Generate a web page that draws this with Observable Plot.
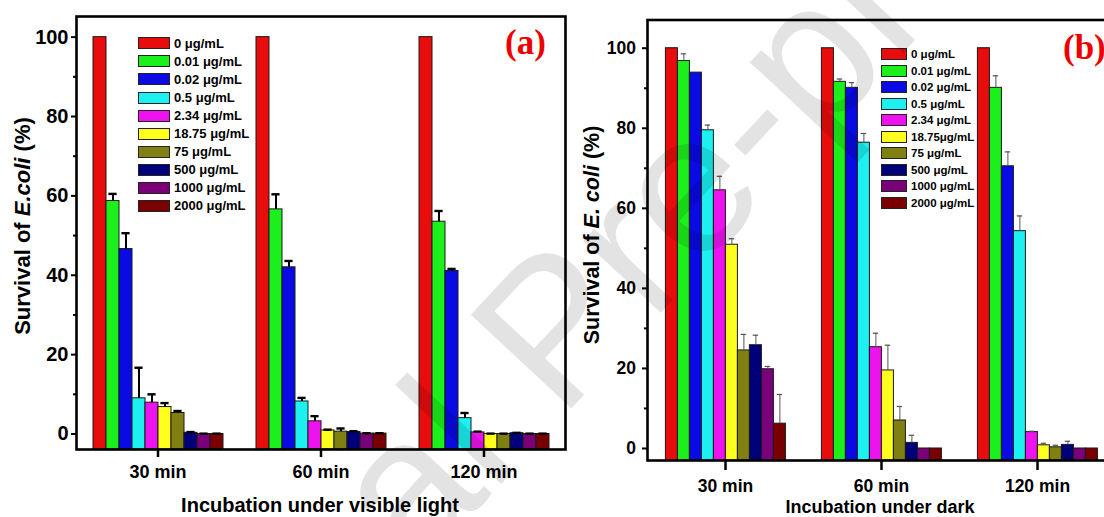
<!DOCTYPE html>
<html>
<head>
<meta charset="utf-8">
<script src="https://cdn.jsdelivr.net/npm/d3@7"></script>
<script src="https://cdn.jsdelivr.net/npm/@observablehq/plot@0.6"></script>
<style>
  html, body { margin: 0; padding: 0; background: #fff; overflow: hidden; }
  #root { position: relative; width: 1104px; height: 517px; overflow: hidden;
          font-family: Arial, "Liberation Sans", sans-serif; font-weight: bold; color: #000; }
  .abs { position: absolute; white-space: nowrap; }
  .panel-svg { position: absolute; top: 0; }
  .legend-row { position: absolute; display: flex; align-items: center; white-space: nowrap; }
  .swatch { box-sizing: border-box; border: 1px solid #222; margin-right: 4px; flex: none; }
  .tag { font-family: "Times New Roman", "Liberation Serif", serif; font-weight: bold; color: #ee0000; }
  #watermark { position: absolute; left: 0; top: 0; pointer-events: none; }
</style>
</head>
<body>
<div id="root"></div>
<script>
// ---------- data ----------
const timeLabels = ["30 min", "60 min", "120 min"];
const concLabels = ["0 μg/mL", "0.01 μg/mL", "0.02 μg/mL", "0.5 μg/mL", "2.34 μg/mL",
                    "18.75 μg/mL", "75 μg/mL", "500 μg/mL", "1000 μg/mL", "2000 μg/mL"];
const concLabelsDark = ["0 μg/mL", "0.01 μg/mL", "0.02 μg/mL", "0.5 μg/mL", "2.34 μg/mL",
                        "18.75μg/mL", "75 μg/mL", "500 μg/mL", "1000 μg/mL", "2000 μg/mL"];
const seriesColors = ["#e80c0c", "#1cf01c", "#0a0ae4", "#1cf0f0", "#ee12ee",
                      "#ffff1e", "#808012", "#00007a", "#7a007a", "#7a0000"];

// (a) visible light: survival (%) and upper error
const light30    = [100, 58.7, 46.6, 9.0, 7.9, 6.8, 5.3, 0.3, 0.0, 0.0];
const light30Err = [0,   1.8,  4.0,  7.7, 2.1, 1.0, 0.5, 0.2, 0.1, 0.1];
const light60    = [100, 56.6, 42.0, 8.2, 3.2, 0.9, 0.6, 0.5, 0.1, 0.1];
const light60Err = [0,   3.8,  1.6,  0.9, 1.3, 0.2, 0.8, 0.2, 0.1, 0.1];
const light120    = [100, 53.5, 41.1, 4.0, 0.4, 0.0, 0.0, 0.2, 0.0, 0.0];
const light120Err = [0,   2.7,  0.5,  1.3, 0.2, 0.1, 0.1, 0.1, 0.1, 0.1];

// (b) dark
const dark30    = [100, 96.8, 93.9, 79.5, 64.5, 50.9, 24.5, 25.8, 19.8, 6.2];
const dark30Err = [0,   1.8,  0,    1.3,  3.5,  1.5,  4.0,  2.5,  0.7,  7.3];
const dark60    = [100, 91.6, 90.1, 76.4, 25.3, 19.5, 7.0, 1.4, 0.0, 0.0];
const dark60Err = [0,   0.7,  1.3,  2.3,  3.5,  6.3,  3.5, 1.9, 0,   0];
const dark120    = [100, 90.1, 70.5, 54.3, 4.1, 0.8, 0.3, 0.9, 0.0, 0.0];
const dark120Err = [0,   3.0,  3.6,  3.8,  0.2, 0.5, 0.5, 0.9, 0,   0];

const yTicks = [0, 20, 40, 60, 80, 100];
const yMinorTicks = [10, 30, 50, 70, 90];
const yDomainLight = [-3.9, 105.2];
const yDomainDark = [-3.0, 107.05];

// ---------- helpers ----------
function buildRows(valueSets, errorSets) {
  const rows = [];
  timeLabels.forEach((t, ti) => {
    concLabels.forEach((c, ci) => {
      rows.push({time: t, conc: c, value: valueSets[ti][ci], err: errorSets[ti][ci]});
    });
  });
  return rows;
}

function panel(o) {
  const rows = buildRows(o.values, o.errors);
  const errRows = rows.filter(d => d.err > 0);
  return Plot.plot({
    width: o.width, height: 517,
    marginLeft: o.marginLeft, marginRight: o.marginRight,
    marginTop: o.marginTop, marginBottom: o.marginBottom,
    style: {fontFamily: "Arial, 'Liberation Sans', sans-serif", fontWeight: "bold",
            color: "#000", background: "transparent", overflow: "visible"},
    fx: {domain: timeLabels, paddingInner: 0, paddingOuter: 0, label: null},
    x: {domain: concLabels, paddingInner: 0, paddingOuter: o.xPadOuter, axis: null},
    y: {domain: o.yDomain, label: null},
    color: {domain: concLabels, range: seriesColors},
    marks: [
      Plot.barY(rows, {fx: "time", x: "conc", y1: o.yDomain[0], y2: "value",
                       fill: "conc", stroke: "#1a1a1a", strokeWidth: 1}),
      Plot.ruleX(errRows, {fx: "time", x: "conc", y1: "value", y2: d => d.value + d.err,
                           stroke: o.errColor, strokeWidth: o.errWidth}),
      Plot.tickY(errRows, {fx: "time", x: "conc", y: d => d.value + d.err,
                           stroke: o.errColor, strokeWidth: o.capWidth,
                           insetLeft: o.capInset, insetRight: o.capInset}),
      Plot.axisY(yTicks, {tickSize: 5, tickPadding: o.yTickPadding, strokeWidth: 2,
                          fontSize: o.yFont, label: null, tickFormat: d => String(d)}),
      Plot.axisY(yMinorTicks, {tickSize: 3, strokeWidth: 2, text: null, label: null}),
      Plot.axisFx({anchor: "bottom", tickSize: o.xTickSize, tickPadding: o.xTickPadding,
                   strokeWidth: 2.5, fontSize: o.xFont, label: null}),
      Plot.frame({facet: "super", stroke: "#000", strokeWidth: 2.6})
    ]
  });
}

const root = document.getElementById("root");

function addPanel(left, o) {
  const svg = panel(o);
  svg.classList.add("panel-svg");
  svg.style.left = left + "px";
  root.appendChild(svg);
}

addPanel(0, {
  values: [light30, light60, light120], errors: [light30Err, light60Err, light120Err],
  width: 580, marginLeft: 76, marginRight: 15, marginTop: 16, marginBottom: 68,
  xPadOuter: 1.22, yDomain: yDomainLight,
  errColor: "#000", errWidth: 2, capWidth: 2.4, capInset: 2.4,
  yTickPadding: 3, yFont: 20, xTickSize: 8, xTickPadding: 8, xFont: 18
});

addPanel(578, {
  values: [dark30, dark60, dark120], errors: [dark30Err, dark60Err, dark120Err],
  width: 540, marginLeft: 68.6, marginRight: 2.5, marginTop: 19.5, marginBottom: 57,
  xPadOuter: 1.2, yDomain: yDomainDark,
  errColor: "#555", errWidth: 1, capWidth: 1.2, capInset: 3.3,
  yTickPadding: 6.5, yFont: 17.5, xTickSize: 10, xTickPadding: 9, xFont: 17.5
});

// ---------- legends ----------
function addLegend(labels, o) {
  labels.forEach((lab, i) => {
    const row = document.createElement("div");
    row.className = "legend-row";
    row.style.left = o.left + "px";
    row.style.top = (o.top + i * o.step - o.swH / 2) + "px";
    row.style.height = o.swH + "px";
    row.style.fontSize = o.font + "px";
    const sw = document.createElement("div");
    sw.className = "swatch";
    sw.style.width = o.swW + "px";
    sw.style.height = o.swH + "px";
    sw.style.background = seriesColors[i];
    const tx = document.createElement("span");
    tx.textContent = lab;
    row.appendChild(sw);
    row.appendChild(tx);
    root.appendChild(row);
  });
}
addLegend(concLabels, {left: 138, top: 43.3, step: 18.07, swW: 32, swH: 12, font: 13});
addLegend(concLabelsDark, {left: 880.5, top: 54, step: 16.5, swW: 26.5, swH: 12, font: 11.5});

// ---------- titles ----------
function addText(html, css) {
  const d = document.createElement("div");
  d.className = "abs";
  d.innerHTML = html;
  Object.assign(d.style, css);
  root.appendChild(d);
  return d;
}
addText("Survival of <i>E.coli</i> (%)", {left: "23px", top: "226px", fontSize: "22px",
  transform: "translate(-50%,-50%) rotate(-90deg)"});
addText("Survival of <i>E. coli</i> (%)", {left: "592px", top: "235px", fontSize: "21.5px",
  transform: "translate(-50%,-50%) rotate(-90deg)"});
addText("Incubation under visible light", {left: "320px", top: "505px", fontSize: "20px",
  transform: "translate(-50%,-50%)"});
addText("Incubation under dark", {left: "880px", top: "507px", fontSize: "18px",
  transform: "translate(-50%,-50%)"});
const ta = addText("(a)", {left: "505px", top: "43px", fontSize: "35px", transform: "translate(0,-50%)"});
ta.classList.add("tag");
const tb = addText("(b)", {left: "1063px", top: "48px", fontSize: "35px", transform: "translate(0,-50%)"});
tb.classList.add("tag");

// ---------- watermark ----------
const ns = "http://www.w3.org/2000/svg";
const wm = document.createElementNS(ns, "svg");
wm.setAttribute("id", "watermark");
wm.setAttribute("width", 1104);
wm.setAttribute("height", 517);
const wt = document.createElementNS(ns, "text");
wt.setAttribute("x", 75);
wt.setAttribute("y", 941);
wt.setAttribute("transform", "rotate(-47 75 941)");
wt.setAttribute("font-family", "Arial, 'Liberation Sans', sans-serif");
wt.setAttribute("font-weight", "normal");
wt.setAttribute("font-size", 200);
wt.setAttribute("fill", "#000");
wt.setAttribute("fill-opacity", 0.11);
wt.textContent = "Journal Pre-proof";
wm.appendChild(wt);
root.appendChild(wm);
</script>
</body>
</html>
